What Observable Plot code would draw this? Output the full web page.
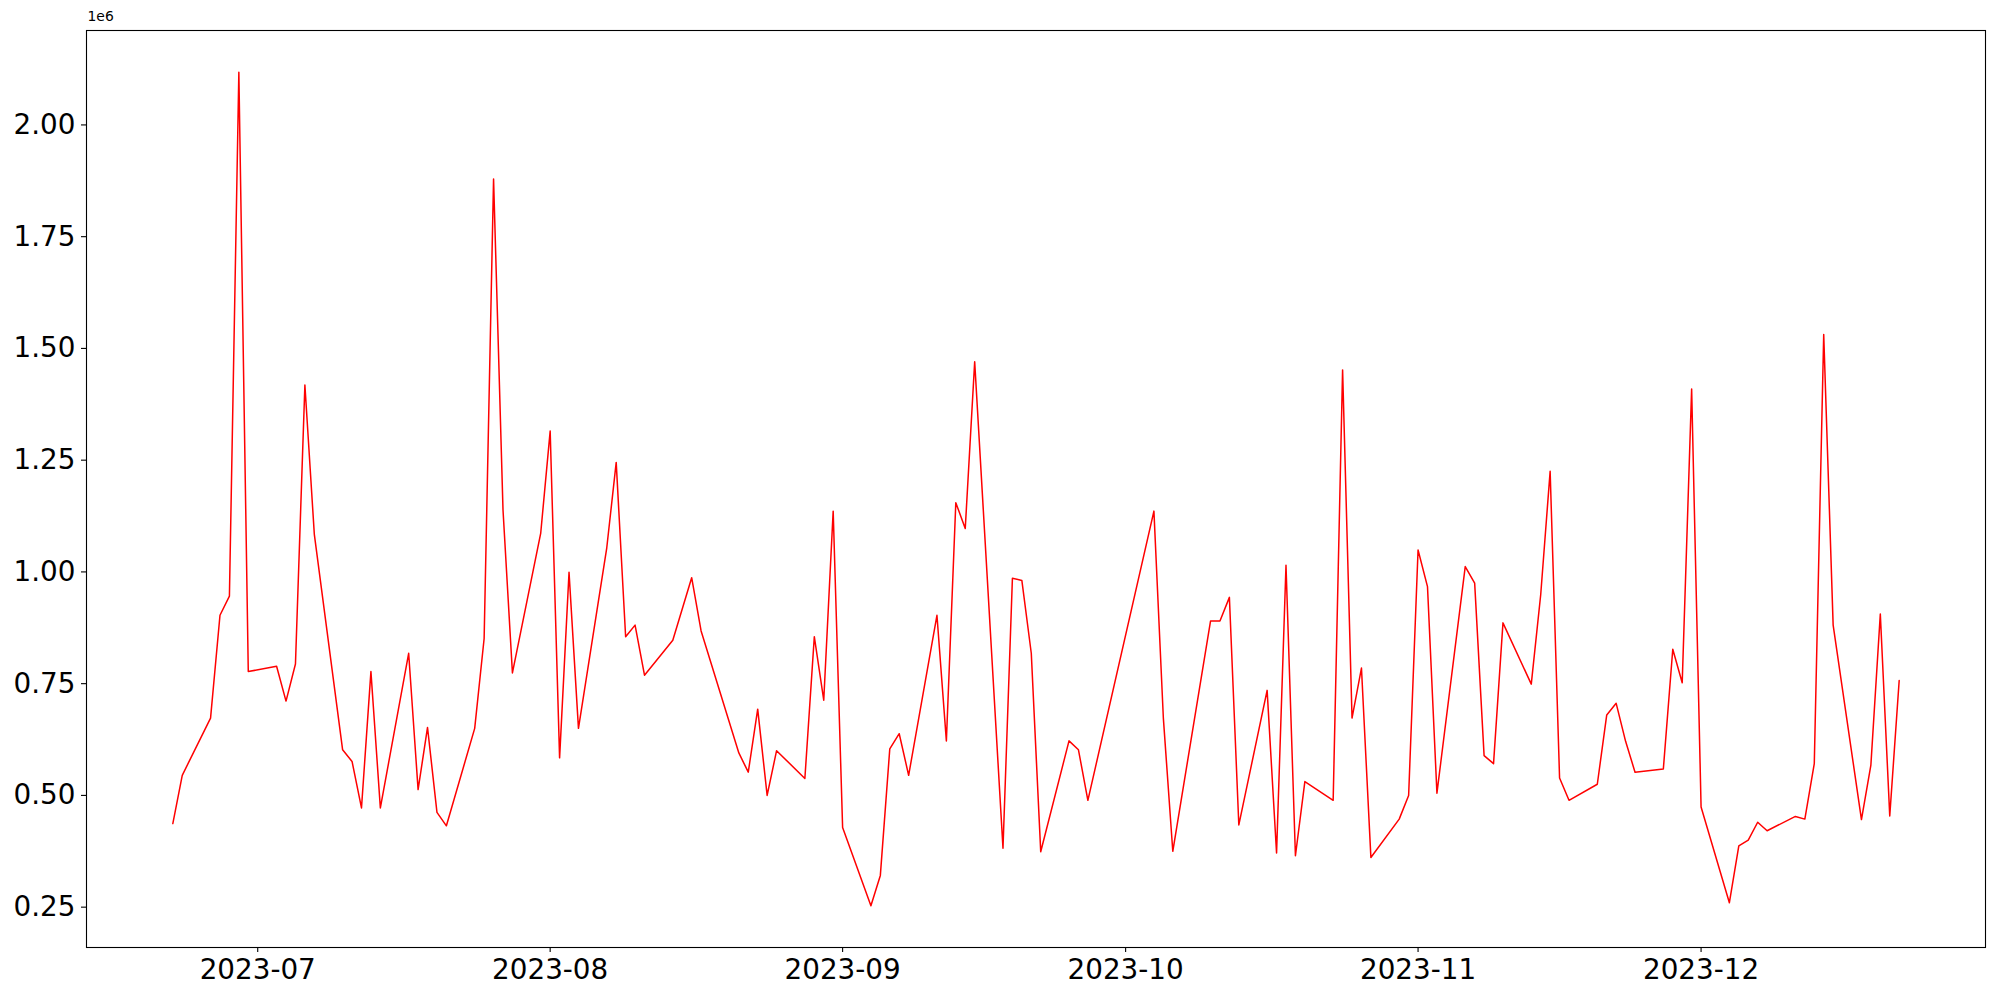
<!DOCTYPE html>
<html>
<head>
<meta charset="utf-8">
<script src="https://cdn.jsdelivr.net/npm/d3@7"></script>
<script src="https://cdn.jsdelivr.net/npm/@observablehq/plot@0.6"></script>
<style>
  html, body { margin: 0; padding: 0; background: #fff; }
  #chart { width: 2000px; height: 1000px; }
</style>
</head>
<body>
<div id="chart"></div>
<script>
const dates = [
  "2023-06-22","2023-06-23","2023-06-26","2023-06-27","2023-06-28","2023-06-29","2023-06-30",
  "2023-07-03","2023-07-04","2023-07-05","2023-07-06","2023-07-07",
  "2023-07-10","2023-07-11","2023-07-12","2023-07-13","2023-07-14",
  "2023-07-17","2023-07-18","2023-07-19","2023-07-20","2023-07-21",
  "2023-07-24","2023-07-25","2023-07-26","2023-07-27","2023-07-28",
  "2023-07-31","2023-08-01","2023-08-02","2023-08-03","2023-08-04",
  "2023-08-07","2023-08-08","2023-08-09","2023-08-10","2023-08-11",
  "2023-08-14","2023-08-16","2023-08-17",
  "2023-08-21","2023-08-22","2023-08-23","2023-08-24","2023-08-25",
  "2023-08-28","2023-08-29","2023-08-30","2023-08-31","2023-09-01",
  "2023-09-04","2023-09-05","2023-09-06","2023-09-07","2023-09-08",
  "2023-09-11","2023-09-12","2023-09-13","2023-09-14","2023-09-15",
  "2023-09-18","2023-09-19","2023-09-20","2023-09-21","2023-09-22",
  "2023-09-25","2023-09-26","2023-09-27",
  "2023-10-04","2023-10-05","2023-10-06",
  "2023-10-10","2023-10-11","2023-10-12","2023-10-13",
  "2023-10-16","2023-10-17","2023-10-18","2023-10-19","2023-10-20",
  "2023-10-23","2023-10-24","2023-10-25","2023-10-26","2023-10-27",
  "2023-10-30","2023-10-31","2023-11-01","2023-11-02","2023-11-03",
  "2023-11-06","2023-11-07","2023-11-08","2023-11-09","2023-11-10",
  "2023-11-13","2023-11-14","2023-11-15","2023-11-16","2023-11-17",
  "2023-11-20","2023-11-21","2023-11-22","2023-11-23","2023-11-24",
  "2023-11-27","2023-11-28","2023-11-29","2023-11-30","2023-12-01",
  "2023-12-04","2023-12-05","2023-12-06","2023-12-07","2023-12-08",
  "2023-12-11","2023-12-12","2023-12-13","2023-12-14","2023-12-15",
  "2023-12-18","2023-12-19","2023-12-20","2023-12-21","2023-12-22"
];
const values = [
  437000, 545000, 673000, 903000, 946000, 2118000, 777000,
  789000, 711000, 794000, 1418000, 1084000,
  602000, 576000, 472000, 777000, 472000,
  818000, 513000, 652000, 462000, 432000,
  650000, 851000, 1879000, 1139000, 774000,
  1087000, 1315000, 584000, 999000, 650000,
  1054000, 1245000, 855000, 881000, 769000,
  847000, 987000, 868000,
  595000, 552000, 693000, 500000, 600000,
  538000, 855000, 713000, 1136000, 428000,
  253000, 321000, 604000, 638000, 545000,
  903000, 622000, 1155000, 1097000, 1470000,
  382000, 986000, 981000, 818000, 374000,
  622000, 602000, 489000,
  1136000, 673000, 375000,
  890000, 890000, 943000, 434000,
  735000, 371000, 1015000, 365000, 531000,
  489000, 1452000, 673000, 785000, 361000,
  447000, 500000, 1049000, 967000, 505000,
  1012000, 975000, 589000, 571000, 886000,
  749000, 949000, 1225000, 539000, 489000,
  525000, 680000, 706000, 621000, 552000,
  559000, 827000, 752000, 1409000, 474000,
  260000, 387000, 400000, 440000, 421000,
  453000, 447000, 571000, 1531000, 881000,
  446000, 568000, 906000, 454000, 757000
];
const yTicks = [250000, 500000, 750000, 1000000, 1250000, 1500000, 1750000, 2000000];
const xTicks = ["2023-07-01","2023-08-01","2023-09-01","2023-10-01","2023-11-01","2023-12-01"];
const offsetLabel = "1e6";

const parse = d3.utcParse("%Y-%m-%d");
const data = dates.map((d, i) => ({date: parse(d), value: values[i]}));

// matplotlib-style 5% margins
const [x0, x1] = d3.extent(data, d => +d.date);
const [y0, y1] = d3.extent(data, d => d.value);
const xPad = (x1 - x0) * 0.05, yPad = (y1 - y0) * 0.05;

const chart = Plot.plot({
  width: 2000,
  height: 1000,
  marginLeft: 86,
  marginRight: 15,
  marginTop: 30,
  marginBottom: 53,
  style: {fontFamily: "'DejaVu Sans', sans-serif", fontSize: "27.8px", color: "black", background: "white"},
  x: {type: "utc", domain: [new Date(x0 - xPad), new Date(x1 + xPad)]},
  y: {domain: [y0 - yPad, y1 + yPad]},
  marks: [
    Plot.line(data, {x: "date", y: "value", stroke: "red", strokeWidth: 1.5}),
    Plot.axisX(xTicks.map(parse), {tickSize: 5, tickPadding: 7, tickFormat: d3.utcFormat("%Y-%m"), label: null, strokeWidth: 1.1}),
    Plot.axisY(yTicks, {tickSize: 5, tickPadding: 6, tickFormat: d => (d / 1e6).toFixed(2), label: null, strokeWidth: 1.1}),
    Plot.frame({stroke: "black", strokeWidth: 1.1}),
    Plot.text([offsetLabel], {frameAnchor: "top-left", text: d => d, dy: -10, dx: 1, fontSize: 13.9, textAnchor: "start", lineAnchor: "bottom", fill: "black"})
  ]
});
document.getElementById("chart").appendChild(chart);
</script>
</body>
</html>
